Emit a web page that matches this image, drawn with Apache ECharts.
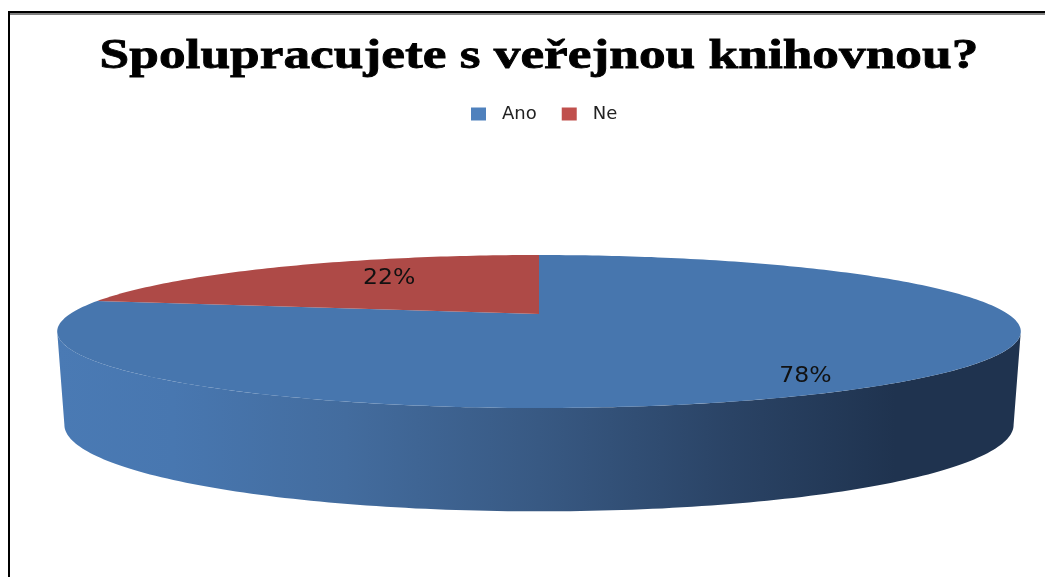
<!DOCTYPE html>
<html><head><meta charset="utf-8">
<style>html,body{margin:0;padding:0;background:#fff}#c{width:1045px;height:577px}</style>
<script src="https://cdn.jsdelivr.net/npm/echarts@6/dist/echarts.min.js"></script>
</head><body><div id="c"></div>
<script>
const titleText = 'Spolupracujete s veřejnou knihovnou?';
const categories = ['Ano', 'Ne'];
const shares = [78, 22];
const labelTexts = ['78%', '22%'];

const legendColors = ['#4F81BD', '#C0504D'];
const topColors = ['#4776AE', '#AE4A47'];
const labelRadius = [0.77, 0.55];
const labelShiftY = [13, -7];

// perspective view of the pie's top and bottom discs
const K = 0.229;
const topDisc = {cx: 539, cy: 314, a: 469, b: 72.5};
const botDisc = {cx: 539, cy: 405, a: 462, b: 82};
const project = (d, deg, r) => {
  const t = deg * Math.PI / 180, X = r * Math.sin(t), Y = r * Math.cos(t), w = 1 + K * Y;
  return [d.cx + d.a * X / w, d.cy - d.b * Y / w];
};
const arc = (d, from, to) => {
  const n = Math.max(2, Math.ceil(Math.abs(to - from))), pts = [];
  for (let i = 0; i <= n; i++) pts.push(project(d, from + (to - from) * i / n, 1));
  return pts;
};
const total = shares.reduce((a, b) => a + b, 0);
const startAngle = i => shares.slice(0, i).reduce((a, b) => a + b, 0) / total * 360;
const rimLimit = Math.acos(-K) * 180 / Math.PI;

function renderSlice(i, api) {
  const from = startAngle(i), to = from + api.value(0) / total * 360, mid = (from + to) / 2;
  const children = [];
  // outer wall: the front part of the rim, belongs to slices that pass through the front
  const wallFrom = Math.max(from, rimLimit), wallTo = Math.min(to, 360 - rimLimit);
  if (wallTo > wallFrom) {
    children.push({
      type: 'polygon',
      shape: {points: arc(topDisc, wallFrom, wallTo).concat(arc(botDisc, wallTo, wallFrom))},
      style: {fill: {type: 'linear', x: 1, y: 0, x2: 0, y2: 0, colorStops: [
        {offset: 0, color: '#1F334F'}, {offset: 0.13, color: '#1F334F'},
        {offset: 0.3, color: '#2A4365'}, {offset: 0.5, color: '#385983'},
        {offset: 0.7, color: '#436C9E'}, {offset: 0.88, color: '#4877B0'},
        {offset: 1, color: '#4A7AB4'}]}}
    });
  }
  children.push({
    type: 'polygon',
    shape: {points: [project(topDisc, 0, 0)].concat(arc(topDisc, from, to))},
    style: {fill: topColors[i]}
  });
  const p = project(topDisc, mid, labelRadius[i]);
  children.push({
    type: 'text', x: p[0], y: p[1] + labelShiftY[i], scaleX: 1.12, z2: 10,
    style: {text: labelTexts[i], fill: '#111', fontFamily: 'DejaVu Sans', fontSize: 21,
            textAlign: 'center', textVerticalAlign: 'middle'}
  });
  return {type: 'group', children};
}

const chart = echarts.init(document.getElementById('c'), null, {renderer: 'canvas'});
chart.setOption({
  animation: false,
  color: legendColors,
  legend: {
    data: categories, left: 466, top: 100, icon: 'rect', itemWidth: 15, itemHeight: 13, itemGap: 25,
    textStyle: {fontFamily: 'DejaVu Sans', fontSize: 18, color: '#222', padding: [0, 11, 0, 11]}
  },
  graphic: [
    {type: 'rect', shape: {x: 8, y: 11, width: 1037, height: 2}, style: {fill: '#000'}},
    {type: 'rect', shape: {x: 10, y: 13, width: 1035, height: 2}, style: {fill: '#808080'}},
    {type: 'rect', shape: {x: 8, y: 11, width: 2, height: 566}, style: {fill: '#000'}},
    {type: 'text', x: 539, y: 57, scaleX: 1.27,
     style: {text: titleText, fill: '#000', stroke: '#000', lineWidth: 0.8, fontFamily: 'Liberation Serif', fontWeight: 'bold', fontSize: 42,
             textAlign: 'center', textVerticalAlign: 'middle'}}
  ],
  series: categories.map((name, i) => ({
    type: 'custom', name, coordinateSystem: 'none', data: [[shares[i]]],
    renderItem: (params, api) => renderSlice(i, api)
  }))
});
</script></body></html>
